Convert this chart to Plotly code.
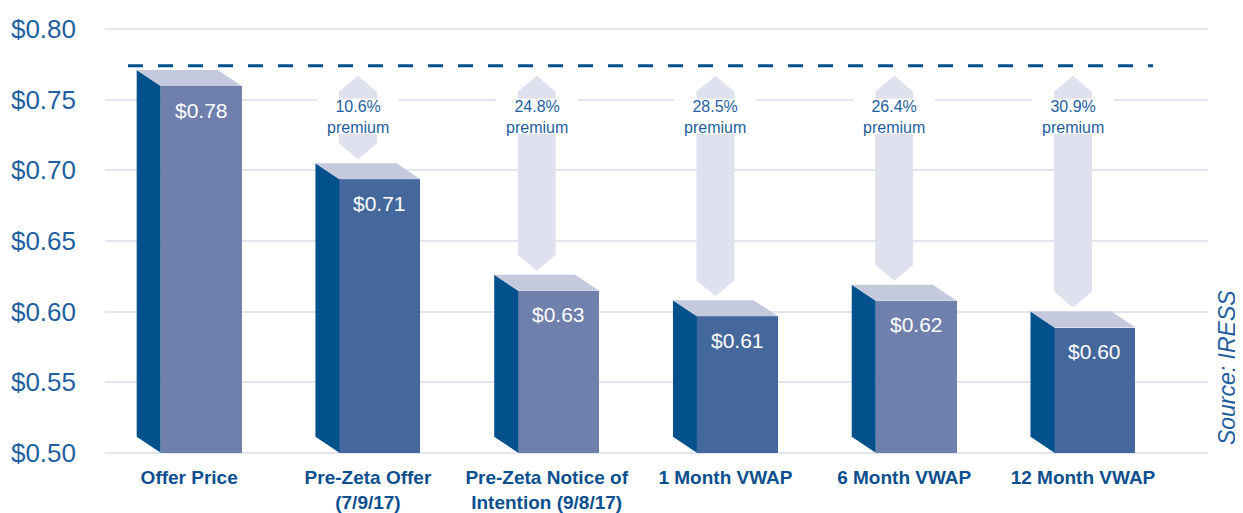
import plotly.graph_objects as go

# ---------------- data ----------------
categories = ["Offer Price", "Pre-Zeta Offer<br>(7/9/17)", "Pre-Zeta Notice of<br>Intention (9/8/17)",
              "1 Month VWAP", "6 Month VWAP", "12 Month VWAP"]
bar_heights = [0.771, 0.705, 0.626, 0.608, 0.619, 0.600]   # drawn height (back top edge)
price_labels = ["$0.78", "$0.71", "$0.63", "$0.61", "$0.62", "$0.60"]
premiums = [None, "10.6%", "24.8%", "28.5%", "26.4%", "30.9%"]
offer_reference = 0.774
y_ticks = [0.50, 0.55, 0.60, 0.65, 0.70, 0.75, 0.80]
y_tick_labels = ["$0.50", "$0.55", "$0.60", "$0.65", "$0.70", "$0.75", "$0.80"]

# ---------------- geometry / styles ----------------
# the page body has an 8px margin, so the figure is 8px smaller than the window
W, H = 1235, 505
ML, MR, MT, MB = 97, 35, 2, 51
X_RANGE = [-0.4709, 5.6994]
Y_RANGE = [0.49341, 0.81353]
px_x = (W - ML - MR) / (X_RANGE[1] - X_RANGE[0])
px_y = (H - MT - MB) / (Y_RANGE[1] - Y_RANGE[0])
BASE = 0.50
DX = 24 / px_x          # depth offset horizontal
DY = 16 / px_y          # depth offset vertical
FRONT_OFF = -28.5 / px_x
FRONT_W = 81 / px_x
ARROW_HW = 19 / px_x
ARROW_HEAD = 16 / px_y
ARROW_SHIFT = -10 / px_x

LEFT_C = "#02508c"
TOP_C = "#c4c9de"
FRONT_C = ["#6f80ad", "#45689c"]
ARROW_C = "#dfe1ee"
GRID_C = "#e2e5f0"
TEXT_C = "#1f5fa0"
CAT_C = "#0b4f8e"
FONT = "Liberation Sans, Arial, sans-serif"

fig = go.Figure()
xs = list(range(len(categories)))

# arrows (behind bars)
for i, p in enumerate(bar_heights):
    if premiums[i] is None:
        continue
    cx = xs[i] + ARROW_SHIFT
    top = offer_reference - 10 / px_y
    bot = p + 4 / px_y
    fig.add_trace(go.Scatter(
        x=[cx, cx + ARROW_HW, cx + ARROW_HW, cx, cx - ARROW_HW, cx - ARROW_HW, cx],
        y=[top, top - ARROW_HEAD, bot + ARROW_HEAD, bot, bot + ARROW_HEAD, top - ARROW_HEAD, top],
        fill="toself", fillcolor=ARROW_C, line=dict(width=0), mode="lines",
        hoverinfo="skip", showlegend=False))

# front faces
fig.add_trace(go.Bar(
    x=xs, y=[p - DY - BASE for p in bar_heights], base=BASE,
    offset=FRONT_OFF, width=FRONT_W,
    marker=dict(color=[FRONT_C[i % 2] for i in xs], line=dict(width=0)),
    hoverinfo="skip", showlegend=False))

# side and top faces
for i, p in enumerate(bar_heights):
    x0 = xs[i] + FRONT_OFF
    x1 = x0 + FRONT_W
    ft = p - DY
    fig.add_trace(go.Scatter(
        x=[x0, x0 - DX, x0 - DX, x0, x0], y=[BASE, BASE + DY, p, ft, BASE],
        fill="toself", fillcolor=LEFT_C, line=dict(width=0), mode="lines",
        hoverinfo="skip", showlegend=False))
    fig.add_trace(go.Scatter(
        x=[x0, x0 - DX, x1 - DX, x1, x0], y=[ft, p, p, ft, ft],
        fill="toself", fillcolor=TOP_C, line=dict(width=0), mode="lines",
        hoverinfo="skip", showlegend=False))
    fig.add_annotation(x=(x0 + x1) / 2, y=ft, yshift=-24, text=price_labels[i],
                       showarrow=False, font=dict(family=FONT, size=21, color="white"))

# reference dashed line
fig.add_trace(go.Scatter(
    x=[xs[0] - 0.342, xs[-1] + 0.392], y=[offer_reference, offer_reference],
    mode="lines", line=dict(color=LEFT_C, width=3, dash="15px,15px"),
    hoverinfo="skip", showlegend=False))

# premium labels
for i, pr in enumerate(premiums):
    if pr is None:
        continue
    cx = xs[i] + ARROW_SHIFT
    fig.add_shape(type="rect", x0=cx - 41 / px_x, x1=cx + 41 / px_x,
                  y0=offer_reference - 68 / px_y, y1=offer_reference - 33 / px_y,
                  fillcolor="white", line=dict(width=0), layer="above")
    fig.add_annotation(x=cx, y=offer_reference - 51 / px_y, text=pr + "<br>premium",
                       showarrow=False, font=dict(family=FONT, size=16, color=TEXT_C))

# source
fig.add_annotation(xref="paper", yref="paper", x=1.0172, y=0.21, xanchor="center",
                   yanchor="middle", text="<i>Source: IRESS</i>",
                   textangle=-90, showarrow=False, font=dict(family=FONT, size=23, color=TEXT_C))

fig.update_layout(
    width=W, height=H, margin=dict(l=ML, r=MR, t=MT, b=MB, autoexpand=False),
    plot_bgcolor="white", paper_bgcolor="white", bargap=0,
    xaxis=dict(range=X_RANGE, tickvals=xs, ticktext=categories, showgrid=False,
               zeroline=False, showline=False, ticks="", ticklabelstandoff=2,
               automargin=False,
               tickfont=dict(family=FONT, size=19, color=CAT_C, weight="bold")),
    yaxis=dict(range=Y_RANGE, tickvals=y_ticks, ticktext=y_tick_labels,
               showgrid=True, gridcolor=GRID_C, gridwidth=2, zeroline=False,
               showline=False, ticks="", ticklabelstandoff=28, automargin=False,
               tickfont=dict(family=FONT, size=26, color=TEXT_C)),
)

fig.write_html("out.html")
